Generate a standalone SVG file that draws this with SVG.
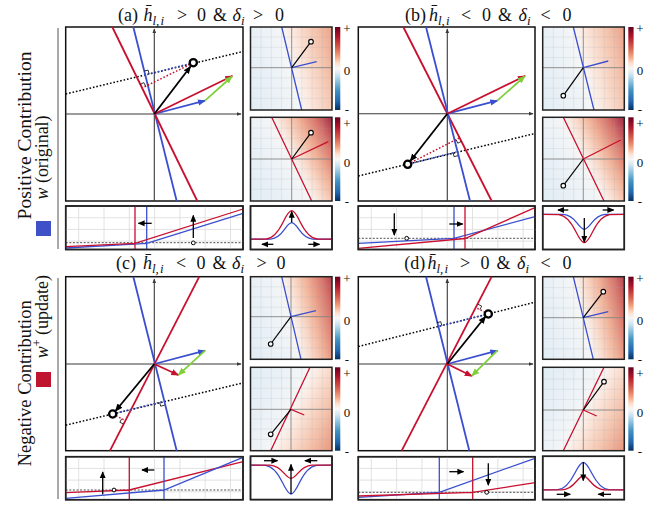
<svg xmlns="http://www.w3.org/2000/svg" xmlns:xlink="http://www.w3.org/1999/xlink" width="662" height="506" viewBox="0 0 662 506">
<style>
text{font-family:"Liberation Serif","Times New Roman",serif;fill:#111}
.ti{font-size:18px}
.it{font-style:italic}
.sb{font-size:13px;font-style:italic}
.cb{font-size:13px;text-anchor:middle}
.bx{fill:#fff;stroke:#111;stroke-width:1.5}
.fr{fill:none;stroke:#222;stroke-width:1.5}
.ax{stroke:#3a3a3a;stroke-width:1.1;fill:none}
.bl{stroke:#3a4fcf;stroke-width:1.8;fill:none}
.rd{stroke:#c8102e;stroke-width:1.8;fill:none}
.gn{stroke:#7fcf3a;stroke-width:1.8;fill:none}
.bk{stroke:#000;stroke-width:1.8;fill:none}
.dt{stroke-dasharray:1.6 1.9;stroke-width:1.5;fill:none}
.ra{stroke:#000;stroke-width:0.8;fill:none}
.pt{fill:#fff;stroke:#000;stroke-width:2.3}
.sl{stroke-width:1.3;fill:none}
.sa{stroke:#000;stroke-width:1.3;fill:none}
.ds{stroke:#222;stroke-width:0.8;stroke-dasharray:2 1.6;fill:none}
.sp{fill:#fff;stroke:#000;stroke-width:1}
.hx{stroke:#858585;stroke-width:0.9;fill:none}
.hl{stroke-width:1.3;fill:none}
.hk{stroke:#000;stroke-width:1.2;fill:none}
.hp{fill:#fff;stroke:#000;stroke-width:1.1}
.br{stroke:#555;stroke-width:1;fill:none}
</style>
<defs>
<marker id="mk" viewBox="0 0 8 8" refX="7" refY="4" markerWidth="7" markerHeight="7" markerUnits="userSpaceOnUse" orient="auto"><path d="M0,0.6 L8,4 L0,7.4 z" fill="#000"/></marker>
<marker id="mb" viewBox="0 0 8 8" refX="7" refY="4" markerWidth="8" markerHeight="8" markerUnits="userSpaceOnUse" orient="auto"><path d="M0,0.8 L8,4 L0,7.2 z" fill="#3a4fcf"/></marker>
<marker id="mr" viewBox="0 0 8 8" refX="7" refY="4" markerWidth="8" markerHeight="8" markerUnits="userSpaceOnUse" orient="auto"><path d="M0,0.8 L8,4 L0,7.2 z" fill="#c8102e"/></marker>
<marker id="mg" viewBox="0 0 8 8" refX="7" refY="4" markerWidth="8" markerHeight="8" markerUnits="userSpaceOnUse" orient="auto"><path d="M0,0.8 L8,4 L0,7.2 z" fill="#7fcf3a"/></marker>
<marker id="mz" viewBox="0 0 8 8" refX="7" refY="4" markerWidth="8" markerHeight="8" markerUnits="userSpaceOnUse" orient="auto"><path d="M0,0.8 L8,4 L0,7.2 z" fill="#000"/></marker>
<marker id="ma" viewBox="0 0 8 8" refX="7" refY="4" markerWidth="5" markerHeight="5" markerUnits="userSpaceOnUse" orient="auto"><path d="M0,0.8 L8,4 L0,7.2 z" fill="#3a3a3a"/></marker>
<linearGradient id="cbar" x1="0" y1="0" x2="0" y2="1">
<stop offset="0" stop-color="#67001f"/><stop offset="0.12" stop-color="#b2182b"/><stop offset="0.25" stop-color="#d6604d"/><stop offset="0.36" stop-color="#f4a582"/><stop offset="0.43" stop-color="#fddbc7"/><stop offset="0.5" stop-color="#f7f7f7"/><stop offset="0.57" stop-color="#d1e5f0"/><stop offset="0.65" stop-color="#92c5de"/><stop offset="0.76" stop-color="#4393c3"/><stop offset="0.9" stop-color="#2166ac"/><stop offset="1" stop-color="#053061"/>
</linearGradient>
<linearGradient id="gl" gradientUnits="userSpaceOnUse"><stop offset="0" stop-color="#e0ecf4"/><stop offset="0.42" stop-color="#f0f4f7"/><stop offset="0.5" stop-color="#f8f6f5"/><stop offset="0.6" stop-color="#fbe6db"/><stop offset="0.8" stop-color="#f4c2ab"/><stop offset="1" stop-color="#e8967d"/></linearGradient>
<linearGradient id="gd" gradientUnits="userSpaceOnUse"><stop offset="0" stop-color="#e0ecf4"/><stop offset="0.42" stop-color="#f0f4f7"/><stop offset="0.5" stop-color="#f8f5f3"/><stop offset="0.6" stop-color="#f9d9c9"/><stop offset="0.72" stop-color="#f1b096"/><stop offset="0.86" stop-color="#d8736a"/><stop offset="1" stop-color="#a02a48"/></linearGradient>
<linearGradient id="g_at" href="#gl" x1="238.2" y1="80.5" x2="345.2" y2="54.9"/>
<linearGradient id="g_ab" href="#gd" x1="242.3" y1="183.2" x2="341.1" y2="134.8"/>
<linearGradient id="g_bt" href="#gl" x1="529.9" y1="81" x2="636.7" y2="54.4"/>
<linearGradient id="g_bb" href="#gd" x1="534" y1="183.5" x2="632.6" y2="134.5"/>
<linearGradient id="g_ct" href="#gd" x1="237.4" y1="329.2" x2="344.6" y2="304.2"/>
<linearGradient id="g_cb" href="#gl" x1="241.2" y1="385.9" x2="340.8" y2="432.7"/>
<linearGradient id="g_dt" href="#gd" x1="529.8" y1="330.6" x2="636.8" y2="304.8"/>
<linearGradient id="g_db" href="#gl" x1="533.9" y1="385.9" x2="632.7" y2="434.1"/>
<g id="hgrid" stroke="#9aa6b2" stroke-width="0.5" stroke-opacity="0.35" fill="none">
<path d="M10.6,0V83.5M20.8,0V83.5M31,0V83.5M51.4,0V83.5M61.6,0V83.5M71.8,0V83.5M0,10.1H81.6M0,20.3H81.6M0,30.5H81.6M0,50.9H81.6M0,61.1H81.6M0,71.3H81.6"/>
</g>
<g id="sgrid" stroke="#dadada" stroke-width="0.8" fill="none">
<path d="M13,0V43.5M38.3,0V43.5M63.6,0V43.5M88.9,0V43.5M114.2,0V43.5M139.5,0V43.5M164.8,0V43.5M0,11.7H177.3M0,23.4H177.3M0,35.1H177.3"/>
</g>
<path id="gs" vector-effect="non-scaling-stroke" d="M-7,0 L-3,-0.0111 C-2.333,-0.033 -1.667,-0.202 -1,-0.6065 C-0.667,-0.8087 -0.333,-1 0,-1 C0.333,-1 0.667,-0.8087 1,-0.6065 C1.667,-0.202 2.333,-0.033 3,-0.0111 L7,0"/>
<clipPath id="ca"><rect x="250.5" y="206" width="81.5" height="43.5"/></clipPath>
<clipPath id="cbb"><rect x="542.7" y="206" width="81.6" height="43.5"/></clipPath>
<clipPath id="cc"><rect x="250.5" y="456.3" width="81.5" height="43.3"/></clipPath>
<clipPath id="cd"><rect x="542.7" y="456.3" width="81.6" height="43.3"/></clipPath>
</defs>

<g id="row-labels">
<path class="br" d="M58,28V249M58,278V499"/>
<text transform="translate(31,135.5) rotate(-90)" text-anchor="middle" font-size="18.5" textLength="168" lengthAdjust="spacingAndGlyphs">Positive Contribution</text>
<text transform="translate(47.5,157.5) rotate(-90)" text-anchor="middle" font-size="18" textLength="84" lengthAdjust="spacingAndGlyphs"><tspan class="it">w</tspan> (original)</text>
<rect x="36" y="221" width="15" height="15" fill="#3f51c6"/>
<text transform="translate(31,383.3) rotate(-90)" text-anchor="middle" font-size="18.5" textLength="166" lengthAdjust="spacingAndGlyphs">Negative Contribution</text>
<text transform="translate(47.5,316.7) rotate(-90)" text-anchor="middle" font-size="18"><tspan class="it">w</tspan><tspan font-size="12" dy="-7">+</tspan><tspan dy="7">  (update)</tspan></text>
<rect x="36" y="372" width="15" height="15" fill="#c0152f"/>
</g>

<g id="titles">
<text class="ti"><tspan x="118" y="20.5">(a)</tspan><tspan x="143.5" y="20.5" class="it">h&#x304;</tspan><tspan x="152.5" y="24.5" class="sb">l,</tspan><tspan x="160.5" y="24.5" class="sb">i</tspan><tspan x="177" y="20.5">&gt;</tspan><tspan x="197" y="20.5">0</tspan><tspan x="213" y="20.5">&amp;</tspan><tspan x="232.5" y="20.5" class="it">δ</tspan><tspan x="241" y="24.5" class="sb">i</tspan><tspan x="253" y="20.5">&gt;</tspan><tspan x="275" y="20.5">0</tspan></text>
<text class="ti"><tspan x="405" y="20.5">(b)</tspan><tspan x="429" y="20.5" class="it">h&#x304;</tspan><tspan x="438" y="24.5" class="sb">l,</tspan><tspan x="446" y="24.5" class="sb">i</tspan><tspan x="461" y="20.5">&lt;</tspan><tspan x="482" y="20.5">0</tspan><tspan x="498" y="20.5">&amp;</tspan><tspan x="518.5" y="20.5" class="it">δ</tspan><tspan x="527" y="24.5" class="sb">i</tspan><tspan x="540.5" y="20.5">&lt;</tspan><tspan x="562.5" y="20.5">0</tspan></text>
<text class="ti"><tspan x="116" y="269">(c)</tspan><tspan x="143" y="269" class="it">h&#x304;</tspan><tspan x="152" y="273" class="sb">l,</tspan><tspan x="160" y="273" class="sb">i</tspan><tspan x="176" y="269">&lt;</tspan><tspan x="196.5" y="269">0</tspan><tspan x="212.5" y="269">&amp;</tspan><tspan x="232" y="269" class="it">δ</tspan><tspan x="240.5" y="273" class="sb">i</tspan><tspan x="256.5" y="269">&gt;</tspan><tspan x="276.5" y="269">0</tspan></text>
<text class="ti"><tspan x="404.3" y="269">(d)</tspan><tspan x="427.5" y="269" class="it">h&#x304;</tspan><tspan x="436.5" y="273" class="sb">l,</tspan><tspan x="444.5" y="273" class="sb">i</tspan><tspan x="460" y="269">&gt;</tspan><tspan x="480.5" y="269">0</tspan><tspan x="496.5" y="269">&amp;</tspan><tspan x="517" y="269" class="it">δ</tspan><tspan x="525.5" y="273" class="sb">i</tspan><tspan x="540.5" y="269">&lt;</tspan><tspan x="562.5" y="269">0</tspan></text>
</g>

<!-- ============ PANEL A ============ -->
<g id="a-main">
<rect class="bx" x="65.7" y="27" width="177.3" height="174"/>
<path class="ax" d="M65.7,114H241" marker-end="url(#ma)"/>
<path class="ax" d="M154.3,201V29" marker-end="url(#ma)"/>
<path class="dt" stroke="#000" d="M65.7,94L243,51.5"/>
<path class="bl" d="M133.3,27L176.7,201"/>
<path class="rd" d="M112.3,27L197.3,201"/>
<path class="dt" stroke="#3a4fcf" d="M190,63.6L145.2,75"/>
<path class="dt" stroke="#c8102e" d="M190,64.5L142,88"/>
<path class="ra" d="M149.1,74L148.1,70.1L144.2,71.1M145.6,86.2L143.8,82.6L140.2,84.4"/>
<path class="bl" d="M154.3,114L205,100.7" marker-end="url(#mb)"/>
<path class="rd" d="M154.3,114L232.3,76" marker-end="url(#mr)"/>
<path class="gn" d="M205,100.7L232,76.5" marker-end="url(#mg)"/>
<path class="bk" d="M154.3,114L190.5,66.5" marker-end="url(#mz)"/>
<circle class="pt" cx="193.3" cy="62.7" r="3.6"/>
</g>
<g id="a-heat-top">
<rect x="250.5" y="27" width="81.5" height="83" fill="url(#g_at)"/>
<use href="#hgrid" transform="translate(250.5,27)"/>
<path class="hx" d="M291.7,27V110M250.5,67.7H332"/>
<path class="hl" stroke="#3a4fcf" d="M281.7,27L301.7,110M291.7,67.7L316.7,61.7"/>
<path class="hk" d="M291.7,67.7L311,41.7"/>
<circle class="hp" cx="311" cy="41.7" r="2.3"/>
<rect class="fr" x="250.5" y="27" width="81.5" height="83"/>
<rect x="335" y="27" width="5.3" height="83" fill="url(#cbar)"/>
<text class="cb" x="347" y="33">+</text><text class="cb" x="347" y="75">0</text><text class="cb" x="347" y="114">-</text>
</g>
<g id="a-heat-bottom">
<rect x="250.5" y="117.3" width="81.5" height="83.7" fill="url(#g_ab)"/>
<use href="#hgrid" transform="translate(250.5,118)"/>
<path class="hx" d="M291.7,117.3V201M250.5,159H332"/>
<path class="hl" stroke="#c8102e" d="M271.7,117.3L311.7,201M291.7,159L328.3,141.7"/>
<path class="hk" d="M291.7,159L311,132.7"/>
<circle class="hp" cx="311" cy="132.7" r="2.3"/>
<rect class="fr" x="250.5" y="117.3" width="81.5" height="83.7"/>
<rect x="335" y="117.3" width="5.3" height="83.7" fill="url(#cbar)"/>
<text class="cb" x="347" y="128">+</text><text class="cb" x="347" y="166.5">0</text><text class="cb" x="347" y="206">-</text>
</g>
<g id="a-strip">
<rect class="bx" x="65.7" y="206" width="177.3" height="43.5"/>
<use href="#sgrid" transform="translate(65.7,206)"/>
<path class="ds" d="M65.7,242.7H243"/>
<path class="sl" stroke="#3a4fcf" d="M65.7,248L146.7,243.3L243,213.3M146.7,206V249.5"/>
<path class="sl" stroke="#c8102e" d="M65.7,246.7L135,243.3L243,209M135,206V249.5"/>
<path class="sa" d="M151.7,223.3H138.5" marker-end="url(#mk)"/>
<path class="sa" d="M193.3,238V215.5" marker-end="url(#mk)"/>
<circle class="sp" cx="193.3" cy="242.9" r="1.9"/>
<rect class="fr" x="65.7" y="206" width="177.3" height="43.5"/>
</g>
<g id="a-gauss">
<rect class="bx" x="250.5" y="206" width="81.5" height="43.5"/>
<g clip-path="url(#ca)">
<use href="#gs" class="sl" stroke="#3a4fcf" transform="translate(291.7,239.3) scale(7,16.6)"/>
<use href="#gs" class="sl" stroke="#c8102e" transform="translate(291.7,239.3) scale(8.5,28.6)"/>
</g>
<path class="sa" d="M291.7,222.5V211.5" marker-end="url(#mk)"/>
<path class="sa" d="M273.3,244.3H262" marker-end="url(#mk)"/>
<path class="sa" d="M308.3,244.3H319.5" marker-end="url(#mk)"/>
<rect class="fr" x="250.5" y="206" width="81.5" height="43.5"/>
</g>

<!-- ============ PANEL B ============ -->
<g id="b-main">
<rect class="bx" x="358.3" y="27" width="176.7" height="174"/>
<path class="ax" d="M358.3,113.7H533" marker-end="url(#ma)"/>
<path class="ax" d="M447.3,201V29" marker-end="url(#ma)"/>
<path class="dt" stroke="#000" d="M358.3,176L535,133.5"/>
<path class="rd" d="M403.3,27L491.7,201"/>
<path class="bl" d="M426,27L470,201"/>
<path class="dt" stroke="#c8102e" d="M411,162.6L459.6,137.8"/>
<path class="dt" stroke="#3a4fcf" d="M411,163.5L457,151.8"/>
<path class="ra" d="M453.1,152.8L454.1,156.7L458,155.7M456,139.6L457.8,143.2L461.4,141.4"/>
<path class="bl" d="M447.3,113.7L497.3,100.7" marker-end="url(#mb)"/>
<path class="rd" d="M447.3,113.7L525,76" marker-end="url(#mr)"/>
<path class="gn" d="M497.3,100.7L524.7,76.3" marker-end="url(#mg)"/>
<path class="bk" d="M447.3,113.7L410.3,161" marker-end="url(#mz)"/>
<circle class="pt" cx="407.7" cy="164.3" r="3.6"/>
</g>
<g id="b-heat-top">
<rect x="542.7" y="27" width="81.6" height="83" fill="url(#g_bt)"/>
<use href="#hgrid" transform="translate(542.7,27)"/>
<path class="hx" d="M583.3,27V110M542.7,67.7H624.3"/>
<path class="hl" stroke="#3a4fcf" d="M573.3,27L594,110M583.3,67.7L608.3,61"/>
<path class="hk" d="M583.3,67.7L563.3,95.7"/>
<circle class="hp" cx="563.3" cy="95.7" r="2.3"/>
<rect class="fr" x="542.7" y="27" width="81.6" height="83"/>
<rect x="628.3" y="27" width="5.3" height="83" fill="url(#cbar)"/>
<text class="cb" x="640" y="33">+</text><text class="cb" x="640" y="75">0</text><text class="cb" x="640" y="114">-</text>
</g>
<g id="b-heat-bottom">
<rect x="542.7" y="117.3" width="81.6" height="83.7" fill="url(#g_bb)"/>
<use href="#hgrid" transform="translate(542.7,118)"/>
<path class="hx" d="M583.3,117.3V201M542.7,159H624.3"/>
<path class="hl" stroke="#c8102e" d="M563.3,117.3L604,201M583.3,159L620.7,140"/>
<path class="hk" d="M583.3,159L563.3,185.7"/>
<circle class="hp" cx="563.3" cy="185.7" r="2.3"/>
<rect class="fr" x="542.7" y="117.3" width="81.6" height="83.7"/>
<rect x="628.3" y="117.3" width="5.3" height="83.7" fill="url(#cbar)"/>
<text class="cb" x="640" y="128">+</text><text class="cb" x="640" y="166.5">0</text><text class="cb" x="640" y="206">-</text>
</g>
<g id="b-strip">
<rect class="bx" x="358.3" y="206" width="176.7" height="43.5"/>
<use href="#sgrid" transform="translate(358.3,206)"/>
<path class="ds" d="M358.3,238.3H535"/>
<path class="sl" stroke="#3a4fcf" d="M358.3,243.3L454,238.3L535,216.7M454,206V249.5"/>
<path class="sl" stroke="#c8102e" d="M358.3,248.3L465,238.5L535,207.7M465,206V249.5"/>
<path class="sa" d="M394.3,213.3V235" marker-end="url(#mk)"/>
<path class="sa" d="M449.3,224H462.7" marker-end="url(#mk)"/>
<circle class="sp" cx="406.7" cy="238.3" r="1.9"/>
<rect class="fr" x="358.3" y="206" width="176.7" height="43.5"/>
</g>
<g id="b-gauss">
<rect class="bx" x="542.7" y="206" width="81.6" height="43.5"/>
<g clip-path="url(#cbb)">
<use href="#gs" class="sl" stroke="#3a4fcf" transform="translate(584.3,214.3) scale(7,-15)"/>
<use href="#gs" class="sl" stroke="#c8102e" transform="translate(584.3,214.3) scale(8.5,-28.4)"/>
</g>
<path class="sa" d="M584.3,218V242" marker-end="url(#mk)"/>
<path class="sa" d="M568.3,210H558" marker-end="url(#mk)"/>
<path class="sa" d="M602.7,210H613.5" marker-end="url(#mk)"/>
<rect class="fr" x="542.7" y="206" width="81.6" height="43.5"/>
</g>

<!-- ============ PANEL C ============ -->
<g id="c-main">
<rect class="bx" x="65.7" y="276.7" width="177.3" height="174"/>
<path class="ax" d="M65.7,364H241" marker-end="url(#ma)"/>
<path class="ax" d="M154.3,450.7V279" marker-end="url(#ma)"/>
<path class="dt" stroke="#000" d="M65.7,425.2L243,382.9"/>
<path class="bl" d="M133.3,276.7L176.7,450.7"/>
<path class="rd" d="M199.3,276.7L110,450.7"/>
<path class="dt" stroke="#3a4fcf" d="M116,413.2L163.6,401.3"/>
<path class="dt" stroke="#c8102e" d="M116,415.7L125.3,420.5"/>
<path class="ra" d="M159.7,402.3L160.7,406.2L164.6,405.2M121.7,418.7L119.9,422.3L123.5,424.1"/>
<path class="bl" d="M154.3,364L205,350.7" marker-end="url(#mb)"/>
<path class="rd" d="M154.3,364L178.3,375" marker-end="url(#mr)"/>
<path class="gn" d="M205,350.7L178.5,374.8" marker-end="url(#mg)"/>
<path class="bk" d="M154.3,364L115.5,411" marker-end="url(#mz)"/>
<circle class="pt" cx="112.7" cy="414" r="3.6"/>
</g>
<g id="c-heat-top">
<rect x="250.5" y="276.7" width="81.5" height="82.6" fill="url(#g_ct)"/>
<use href="#hgrid" transform="translate(250.5,276.7)"/>
<path class="hx" d="M291,276.7V359.3M250.5,316.7H332"/>
<path class="hl" stroke="#3a4fcf" d="M281.7,276.7L301,359.3M291,316.7L316,310.7"/>
<path class="hk" d="M291,316.7L270.7,344"/>
<circle class="hp" cx="270.7" cy="344" r="2.3"/>
<rect class="fr" x="250.5" y="276.7" width="81.5" height="82.6"/>
<rect x="335" y="276.7" width="5.3" height="82.6" fill="url(#cbar)"/>
<text class="cb" x="347" y="283">+</text><text class="cb" x="347" y="325">0</text><text class="cb" x="347" y="364">-</text>
</g>
<g id="c-heat-bottom">
<rect x="250.5" y="367.3" width="81.5" height="83.4" fill="url(#g_cb)"/>
<use href="#hgrid" transform="translate(250.5,368)"/>
<path class="hx" d="M291,367.3V450.7M250.5,409.3H332"/>
<path class="hl" stroke="#c8102e" d="M310,367.3L270.7,450.7M291,409.3L304.3,415"/>
<path class="hk" d="M291,409.3L270.7,434.3"/>
<circle class="hp" cx="270.7" cy="434.3" r="2.3"/>
<rect class="fr" x="250.5" y="367.3" width="81.5" height="83.4"/>
<rect x="335" y="367.3" width="5.3" height="83.4" fill="url(#cbar)"/>
<text class="cb" x="347" y="378">+</text><text class="cb" x="347" y="416.5">0</text><text class="cb" x="347" y="456">-</text>
</g>
<g id="c-strip">
<rect class="bx" x="65.7" y="456.7" width="177.3" height="43"/>
<use href="#sgrid" transform="translate(65.7,456.7)"/>
<path class="ds" d="M65.7,490H243"/>
<path class="sl" stroke="#c8102e" d="M65.7,492.7L129.3,490L243,461.7M129.3,456.7V499.7"/>
<path class="sl" stroke="#3a4fcf" d="M65.7,498.3L164,490L243,457.3M164,456.7V499.7"/>
<path class="sa" d="M102.7,494.3V472" marker-end="url(#mk)"/>
<path class="sa" d="M154.3,470H142" marker-end="url(#mk)"/>
<circle class="sp" cx="114" cy="490" r="1.9"/>
<rect class="fr" x="65.7" y="456.7" width="177.3" height="43"/>
</g>
<g id="c-gauss">
<rect class="bx" x="250.5" y="456.3" width="81.5" height="43.3"/>
<g clip-path="url(#cc)">
<use href="#gs" class="sl" stroke="#3a4fcf" transform="translate(291,465) scale(8.5,-29)"/>
<use href="#gs" class="sl" stroke="#c8102e" transform="translate(291,465) scale(7,-13.3)"/>
</g>
<path class="sa" d="M291,494V464.5" marker-end="url(#mk)"/>
<path class="sa" d="M264,460.7H277.5" marker-end="url(#mk)"/>
<path class="sa" d="M317.3,460.7H305" marker-end="url(#mk)"/>
<rect class="fr" x="250.5" y="456.3" width="81.5" height="43.3"/>
</g>

<!-- ============ PANEL D ============ -->
<g id="d-main">
<rect class="bx" x="358.3" y="276.7" width="176.7" height="174"/>
<path class="ax" d="M358.3,364H533" marker-end="url(#ma)"/>
<path class="ax" d="M447.3,450.7V279" marker-end="url(#ma)"/>
<path class="dt" stroke="#000" d="M358.3,346.5L535,302.2"/>
<path class="bl" d="M426,276.7L469.3,450.7"/>
<path class="rd" d="M491.7,276.7L401.7,450.7"/>
<path class="dt" stroke="#3a4fcf" d="M485,314.8L437.9,326.6"/>
<path class="dt" stroke="#c8102e" d="M485,312.3L476.3,307.8"/>
<path class="ra" d="M441.8,325.6L440.8,321.7L436.9,322.7M479.9,309.6L481.7,306.1L478.1,304.3"/>
<path class="bl" d="M447.3,364L497.3,350.7" marker-end="url(#mb)"/>
<path class="rd" d="M447.3,364L471.7,376" marker-end="url(#mr)"/>
<path class="gn" d="M497.3,350.7L472,375.7" marker-end="url(#mg)"/>
<path class="bk" d="M447.3,364L485.5,316.5" marker-end="url(#mz)"/>
<circle class="pt" cx="488.3" cy="314" r="3.6"/>
</g>
<g id="d-heat-top">
<rect x="542.7" y="276.7" width="81.6" height="82.6" fill="url(#g_dt)"/>
<use href="#hgrid" transform="translate(542.7,277.5)"/>
<path class="hx" d="M583.3,276.7V359.3M542.7,317.7H624.3"/>
<path class="hl" stroke="#3a4fcf" d="M573.3,276.7L593.3,359.3M583.3,317.7L608.3,311.7"/>
<path class="hk" d="M583.3,317.7L603.3,291.7"/>
<circle class="hp" cx="603.3" cy="291.7" r="2.3"/>
<rect class="fr" x="542.7" y="276.7" width="81.6" height="82.6"/>
<rect x="628.3" y="276.7" width="5.3" height="82.6" fill="url(#cbar)"/>
<text class="cb" x="640" y="283">+</text><text class="cb" x="640" y="325">0</text><text class="cb" x="640" y="364">-</text>
</g>
<g id="d-heat-bottom">
<rect x="542.7" y="367.3" width="81.6" height="83.4" fill="url(#g_db)"/>
<use href="#hgrid" transform="translate(542.7,369)"/>
<path class="hx" d="M583.3,367.3V450.7M542.7,410H624.3"/>
<path class="hl" stroke="#c8102e" d="M604,367.3L563.3,450.7M583.3,410L596.7,416"/>
<path class="hk" d="M583.3,410L604,381.7"/>
<circle class="hp" cx="604" cy="381.7" r="2.3"/>
<rect class="fr" x="542.7" y="367.3" width="81.6" height="83.4"/>
<rect x="628.3" y="367.3" width="5.3" height="83.4" fill="url(#cbar)"/>
<text class="cb" x="640" y="378">+</text><text class="cb" x="640" y="416.5">0</text><text class="cb" x="640" y="456">-</text>
</g>
<g id="d-strip">
<rect class="bx" x="358.3" y="456.7" width="176.7" height="43"/>
<use href="#sgrid" transform="translate(358.3,456.7)"/>
<path class="ds" d="M358.3,492.3H535"/>
<path class="sl" stroke="#3a4fcf" d="M358.3,497.3L439.3,492.3L535,458.3M439.3,456.7V499.7"/>
<path class="sl" stroke="#c8102e" d="M358.3,496L472.7,492.3L535,482.7M472.7,456.7V499.7"/>
<path class="sa" d="M449.3,471.7H463.5" marker-end="url(#mk)"/>
<path class="sa" d="M488.3,463.3V485" marker-end="url(#mk)"/>
<circle class="sp" cx="486.7" cy="492.3" r="1.9"/>
<rect class="fr" x="358.3" y="456.7" width="176.7" height="43"/>
</g>
<g id="d-gauss">
<rect class="bx" x="542.7" y="456.3" width="81.6" height="43.3"/>
<g clip-path="url(#cd)">
<use href="#gs" class="sl" stroke="#3a4fcf" transform="translate(583.3,490) scale(8.5,27.7)"/>
<use href="#gs" class="sl" stroke="#c8102e" transform="translate(583.3,490) scale(7,14)"/>
</g>
<path class="sa" d="M583.3,462V480.5" marker-end="url(#mk)"/>
<path class="sa" d="M556.7,494.3H570.2" marker-end="url(#mk)"/>
<path class="sa" d="M611,494.3H598.3" marker-end="url(#mk)"/>
<rect class="fr" x="542.7" y="456.3" width="81.6" height="43.3"/>
</g>
<g id="connectors"/>
</svg>
